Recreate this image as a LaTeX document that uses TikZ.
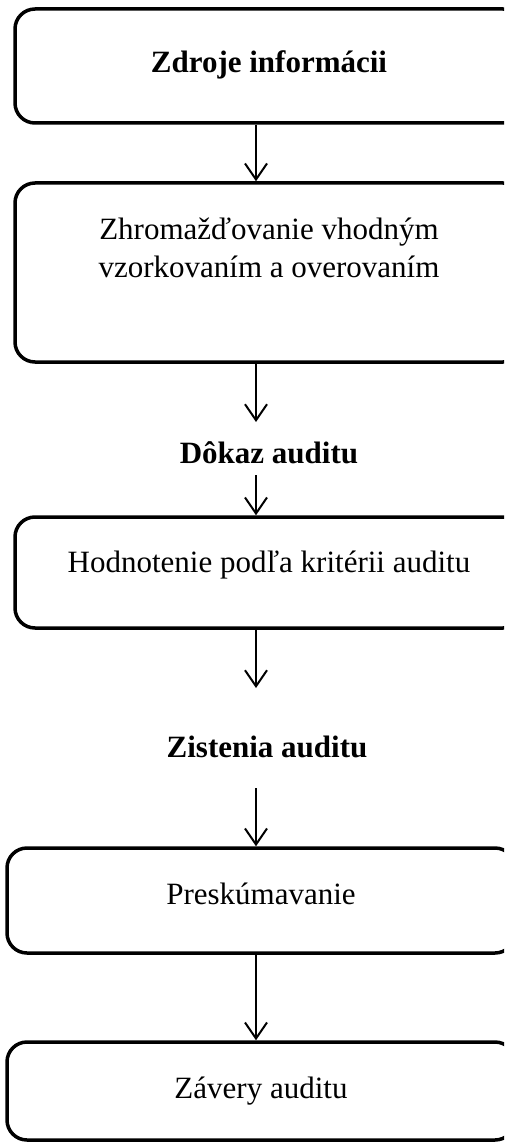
\documentclass[tikz,border=0pt]{standalone}
\usepackage{fontspec}
\setmainfont{Liberation Serif}
\usetikzlibrary{arrows.meta}

\begin{document}
\begin{tikzpicture}[x=1pt,y=-1pt,->,>={Straight Barb[length=16pt,width=22pt]},line width=2pt,
  main node/.style={draw,line width=3.5pt,rounded corners=20pt,minimum width=508pt,inner sep=0pt,align=center,
    font=\fontsize{31}{38}\selectfont,text height=20pt,text depth=6pt},
  label node/.style={inner sep=0pt,font=\fontsize{31}{38}\selectfont\bfseries,text height=20pt,text depth=6pt}]

  \useasboundingbox (0,0) rectangle (504,1142);
  \clip (0,0) rectangle (504,1142);

  \coordinate (ax) at (256,0);

  \node[main node,minimum height=114pt] (b1) at (269,66) {\bfseries Zdroje informácii};
  \node[main node,minimum height=179pt,text height=58pt,text depth=49pt] (b2) at (269,272.5) {Zhromažďovanie vhodným\\vzorkovaním a overovaním};
  \node[label node] (l1) at (269,456) {Dôkaz auditu};
  \node[main node,minimum height=111pt,text depth=21pt] (b3) at (269,572.5) {Hodnotenie podľa kritérii auditu};
  \node[label node] (l2) at (267,750) {Zistenia auditu};
  \node[main node,minimum height=105pt,text depth=13pt] (b4) at (261,900.5) {Preskúmavanie};
  \node[main node,minimum height=98pt] (b5) at (261,1091) {Závery auditu};

  \draw (b1.south -| ax) -- (b2.north -| ax);
  \draw[shorten >=34pt] (b2.south -| ax) -- (l1 -| ax);
  \draw[shorten <=19pt] (l1 -| ax) -- (b3.north -| ax);
  \draw[shorten >=62pt] (b3.south -| ax) -- (l2 -| ax);
  \draw[shorten <=38pt] (l2 -| ax) -- (b4.north -| ax);
  \draw (b4.south -| ax) -- (b5.north -| ax);
\end{tikzpicture}
\end{document}
